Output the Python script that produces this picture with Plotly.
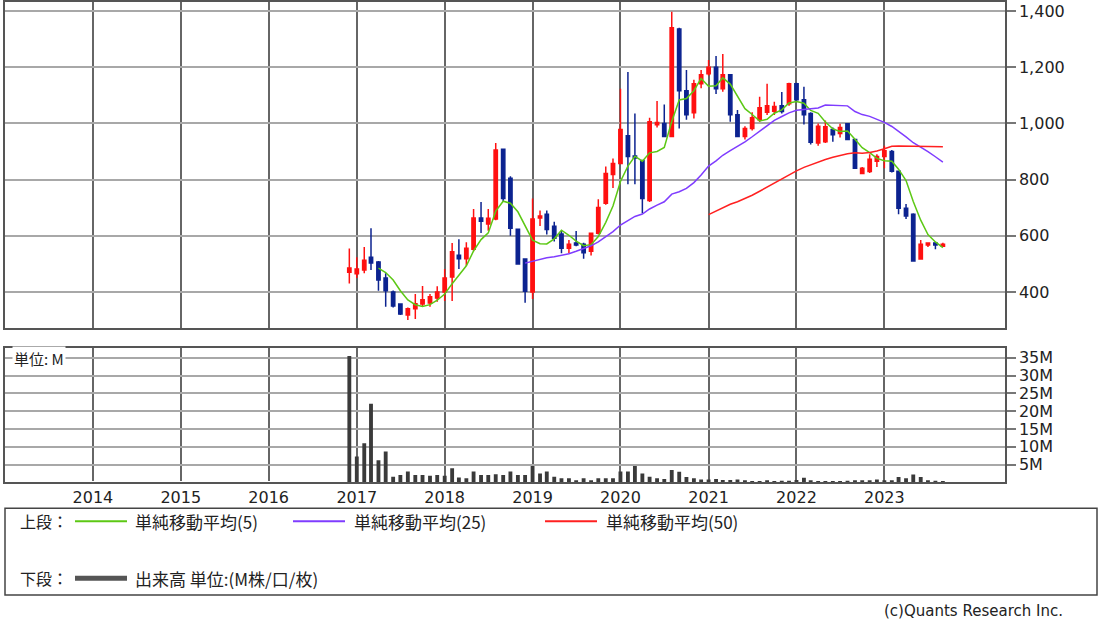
import pandas as pd
import plotly.graph_objects as go

# ---- data (monthly, Dec 2016 - Sep 2023) ----
months = pd.date_range("2016-12-01", periods=82, freq="MS")

open_ = [470, 465, 478, 524, 507, 450, 400, 357, 318, 340, 357, 361, 379,
         400, 453, 531, 518, 552, 663, 642, 660, 908, 805, 623, 517,
         400, 663, 677, 634, 606, 556, 574, 570, 545, 609, 716, 818,
         857, 956, 884, 868, 726, 995, 1000, 953, 1336, 1116, 1038, 1141,
         1177, 1200, 1123, 1173, 1031, 953, 982, 1013, 1040, 1043, 1063, 1070,
         1141, 1084, 1035, 930, 935, 978, 964, 999, 943, 822, 829, 865,
         882, 900, 830, 698, 677, 517, 567, 574, 563]
high = [555, 524, 560, 627, 510, 467, 405, 360, 345, 393, 421, 393, 420,
        482, 574, 588, 577, 695, 720, 695, 930, 910, 812, 625, 520,
        733, 690, 690, 650, 617, 585, 617, 575, 609, 730, 847, 875,
        1123, 1183, 1035, 870, 1020, 1080, 1067, 1397, 1340, 1190, 1155, 1190,
        1226, 1240, 1247, 1175, 1048, 990, 1040, 1095, 1141, 1077, 1112, 1145,
        1145, 1130, 1040, 1000, 1010, 985, 999, 1000, 945, 845, 890, 890,
        920, 905, 832, 713, 680, 585, 577, 578, 575]
low = [430, 450, 467, 478, 404, 347, 345, 318, 300, 304, 350, 347, 365,
       368, 368, 482, 493, 545, 610, 618, 655, 720, 600, 497, 362,
       375, 635, 605, 580, 538, 538, 563, 518, 530, 605, 710, 770,
       857, 783, 783, 680, 720, 985, 953, 953, 982, 1013, 1017, 1125,
       1170, 1105, 1113, 1006, 953, 943, 975, 1005, 1030, 1030, 1035, 1063,
       1075, 996, 925, 920, 930, 935, 950, 940, 838, 820, 823, 845,
       840, 825, 677, 660, 508, 515, 560, 552, 560]
close = [485, 482, 513, 503, 443, 404, 350, 322, 340, 358, 372, 383, 400,
         450, 543, 518, 556, 663, 652, 662, 905, 733, 627, 500, 403,
         660, 670, 622, 591, 556, 570, 567, 540, 609, 701, 822, 857,
         978, 882, 877, 733, 1006, 1003, 953, 1340, 1116, 1031, 1141, 1173,
         1200, 1123, 1173, 1031, 953, 982, 1020, 1056, 1063, 1060, 1042, 1141,
         1084, 1031, 933, 990, 988, 960, 985, 943, 840, 840, 872, 882,
         903, 830, 698, 670, 510, 570, 574, 567, 570]
volume_m = [35.5, 7.3, 11.0, 22.1, 6.2, 8.7, 1.6, 2.1, 3.1, 2.1, 2.1, 1.9, 2.1,
            1.9, 4.0, 1.4, 1.2, 3.1, 2.1, 2.1, 2.3, 2.1, 3.1, 2.1, 2.1,
            4.6, 2.5, 3.1, 1.6, 1.2, 1.2, 0.6, 1.2, 0.6, 1.2, 1.2, 1.2,
            3.1, 3.1, 4.6, 2.5, 1.6, 1.2, 1.0, 3.5, 3.0, 1.5, 1.2, 0.8,
            0.8, 1.0, 0.7, 0.7, 0.8, 0.6, 0.4, 0.4, 0.6, 0.4, 0.5, 0.5,
            0.7, 1.3, 0.6, 0.4, 0.4, 0.4, 0.4, 0.5, 0.6, 0.6, 0.6, 0.8,
            0.6, 0.6, 1.5, 1.2, 2.2, 1.5, 0.6, 0.5, 0.3]

year_ticks = [f"{y}-01-01" for y in range(2014, 2024)]
year_labels = [str(y) for y in range(2014, 2024)]
price_ticks = [400, 600, 800, 1000, 1200, 1400]
vol_ticks = [5, 10, 15, 20, 25, 30, 35]
vol_labels = [f"{v}M" for v in vol_ticks]
ma_specs = [(5, "#5cc814", "単純移動平均(5)"),
            (25, "#7f3cff", "単純移動平均(25)"),
            (50, "#ff2020", "単純移動平均(50)")]

W, H = 1100, 622
def px(x): return x / W
def py(y): return 1 - y / H

RED = "#ff1010"
NAVY = "#0c2390"
NUMFONT = "DejaVu Sans"
JPFONT = "Noto Sans CJK JP"

fig = go.Figure()

fig.add_trace(go.Candlestick(
    x=months, open=open_, high=high, low=low, close=close,
    increasing=dict(line=dict(color=RED, width=1.5), fillcolor=RED),
    decreasing=dict(line=dict(color=NAVY, width=1.5), fillcolor=NAVY),
    whiskerwidth=0, xaxis="x", yaxis="y", showlegend=False, hoverinfo="skip"))

cs = pd.Series(close, dtype=float)
for n, col, name in ma_specs:
    fig.add_trace(go.Scatter(x=months, y=cs.rolling(n).mean(), mode="lines",
                             line=dict(color=col, width=1.5), name=name,
                             xaxis="x", yaxis="y", showlegend=False, hoverinfo="skip"))

fig.add_trace(go.Bar(x=months, y=volume_m, width=16 * 86400000,
                     marker=dict(color="#3a3a3a", line=dict(width=0)),
                     xaxis="x2", yaxis="y2", showlegend=False, hoverinfo="skip"))

xrange_ = ["2013-01-01", "2024-05-16"]
axis_common = dict(showline=True, linecolor="#555", linewidth=1.5, mirror=True)
fig.update_layout(
    width=W, height=H, margin=dict(l=0, r=0, t=0, b=0),
    paper_bgcolor="white", plot_bgcolor="white", boxgap=0.3,
    xaxis=dict(domain=[px(5), px(1005)], range=xrange_, type="date",
               anchor="y", tickvals=year_ticks, ticktext=year_labels,
               showticklabels=False, ticks="", showgrid=True,
               gridcolor="#666", gridwidth=2, rangeslider=dict(visible=False),
               **axis_common),
    yaxis=dict(domain=[py(327), py(0)], range=[272, 1432], side="right",
               anchor="x", tickvals=price_ticks, tickformat=",",
               ticks="outside", ticklen=9, tickcolor="#777", tickwidth=1.5,
               showgrid=True, gridcolor="#a8a8a8", gridwidth=2,
               tickfont=dict(family=NUMFONT, size=16, color="#222"),
               **axis_common),
    xaxis2=dict(domain=[px(5), px(1005)], range=xrange_, type="date",
                anchor="y2", tickvals=year_ticks, ticktext=year_labels,
                ticks="", showgrid=True, gridcolor="#666", gridwidth=2,
                tickfont=dict(family=NUMFONT, size=16, color="#222"),
                **axis_common),
    yaxis2=dict(domain=[py(482), py(347)], range=[0, 37.8], side="right",
                anchor="x2", tickvals=vol_ticks, ticktext=vol_labels,
                ticks="outside", ticklen=9, tickcolor="#777", tickwidth=1.5,
                showgrid=True, gridcolor="#a8a8a8", gridwidth=2,
                tickfont=dict(family=NUMFONT, size=16, color="#222"),
                **axis_common),
)

shapes = [dict(type="rect", xref="paper", yref="paper",
               x0=px(5), x1=px(1097), y0=py(595), y1=py(508),
               line=dict(color="#444", width=1.5), fillcolor="rgba(0,0,0,0)")]
annotations = [dict(text="単位: M", x=px(12), y=py(358), xref="paper", yref="paper",
                    xanchor="left", yanchor="middle", showarrow=False,
                    bgcolor="white", font=dict(family=JPFONT, size=15, color="#222"))]

leg_x = [(75, 127, 133), (293, 345, 352), (545, 597, 604)]
for (x0, x1, tx), (n, col, name) in zip(leg_x, ma_specs):
    shapes.append(dict(type="line", xref="paper", yref="paper",
                       x0=px(x0), x1=px(x1), y0=py(521), y1=py(521),
                       line=dict(color=col, width=2)))
    annotations.append(dict(text=name, x=px(tx), y=py(521), xref="paper", yref="paper",
                            xanchor="left", yanchor="middle", showarrow=False,
                            font=dict(family=JPFONT, size=17, color="#222")))
shapes.append(dict(type="line", xref="paper", yref="paper",
                   x0=px(75), x1=px(127), y0=py(578), y1=py(578),
                   line=dict(color="#555", width=5)))
annotations += [
    dict(text="上段：", x=px(18), y=py(521), xref="paper", yref="paper",
         xanchor="left", yanchor="middle", showarrow=False,
         font=dict(family=JPFONT, size=16, color="#222")),
    dict(text="下段：", x=px(18), y=py(578), xref="paper", yref="paper",
         xanchor="left", yanchor="middle", showarrow=False,
         font=dict(family=JPFONT, size=16, color="#222")),
    dict(text="出来高 単位:(M株/口/枚)", x=px(133), y=py(578), xref="paper", yref="paper",
         xanchor="left", yanchor="middle", showarrow=False,
         font=dict(family=JPFONT, size=17, color="#222")),
    dict(text="(c)Quants Research Inc.", x=px(1065), y=py(611), xref="paper", yref="paper",
         xanchor="right", yanchor="middle", showarrow=False,
         font=dict(family=NUMFONT, size=15, color="#222")),
]
fig.update_layout(shapes=shapes, annotations=annotations)

fig.write_html("out.html", config={"displayModeBar": False},
               post_script="document.body.style.margin='0px';document.body.style.padding='0px';")
